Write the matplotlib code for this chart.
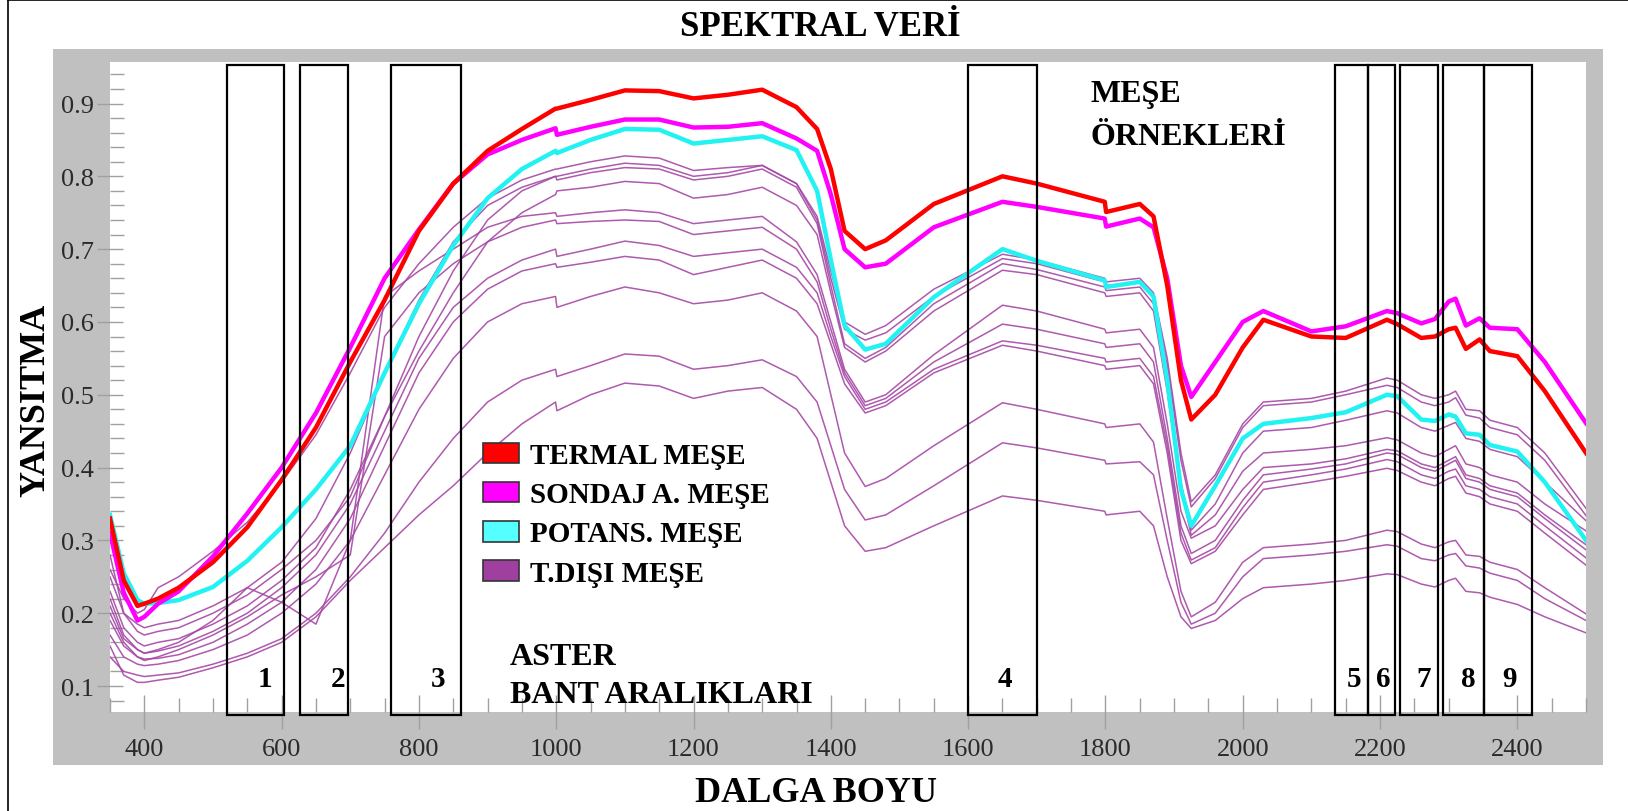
import matplotlib
matplotlib.use("Agg")
import matplotlib.pyplot as plt
from matplotlib.patches import Rectangle, Patch
from matplotlib.lines import Line2D
from matplotlib.ticker import MultipleLocator
import matplotlib.transforms as mtransforms

plt.rcParams['font.family'] = ['Liberation Serif', 'DejaVu Serif']

# wavelength grid (nm)
wl = [350, 370, 390, 400, 420, 450, 500, 550, 600, 650,
      700, 750, 800, 850, 900, 950, 999, 1001, 1050, 1100,
      1150, 1200, 1250, 1300, 1350, 1380, 1400, 1420, 1450, 1480,
      1550, 1650, 1700, 1799, 1801, 1850, 1870, 1890, 1910, 1925,
      1960, 2000, 2030, 2100, 2150, 2210, 2225, 2260, 2280, 2300,
      2310, 2325, 2345, 2360, 2400, 2440, 2500]

termal = [0.33, 0.245, 0.21, 0.213, 0.22, 0.235, 0.27, 0.318, 0.383, 0.455,
          0.545, 0.63, 0.725, 0.79, 0.835, 0.865, 0.893, 0.893, 0.905, 0.918,
          0.917, 0.907, 0.912, 0.919, 0.895, 0.865, 0.81, 0.725, 0.70, 0.712,
          0.762, 0.80, 0.79, 0.765, 0.751, 0.762, 0.745, 0.65, 0.52, 0.466,
          0.50, 0.565, 0.603, 0.58, 0.578, 0.603, 0.597, 0.578, 0.58, 0.59,
          0.592, 0.563, 0.576, 0.56, 0.553, 0.505, 0.42]

sondaj = [0.31, 0.228, 0.19, 0.195, 0.213, 0.23, 0.278, 0.337, 0.40, 0.475,
          0.565, 0.66, 0.727, 0.79, 0.83, 0.85, 0.866, 0.857, 0.868, 0.878,
          0.878, 0.867, 0.868, 0.873, 0.852, 0.835, 0.775, 0.70, 0.675, 0.68,
          0.73, 0.765, 0.758, 0.742, 0.731, 0.742, 0.73, 0.66, 0.54, 0.497,
          0.545, 0.60, 0.615, 0.587, 0.594, 0.615, 0.612, 0.598, 0.604, 0.628,
          0.632, 0.595, 0.605, 0.592, 0.59, 0.545, 0.461]

potans = [0.335, 0.255, 0.218, 0.213, 0.214, 0.218, 0.236, 0.272, 0.318, 0.37,
          0.43, 0.53, 0.625, 0.705, 0.77, 0.81, 0.835, 0.832, 0.85, 0.865,
          0.864, 0.845, 0.85, 0.855, 0.836, 0.78, 0.685, 0.595, 0.562, 0.57,
          0.634, 0.70, 0.684, 0.657, 0.648, 0.655, 0.635, 0.52, 0.37, 0.32,
          0.375, 0.44, 0.46, 0.468, 0.476, 0.50, 0.498, 0.466, 0.464, 0.473,
          0.47, 0.447, 0.445, 0.431, 0.422, 0.38, 0.30]

tdisi_1 = [0.26, 0.22, 0.20, 0.205, 0.235, 0.25, 0.285, 0.325, 0.38, 0.445,
           0.53, 0.62, 0.68, 0.73, 0.77, 0.795, 0.81, 0.81, 0.82, 0.828,
           0.825, 0.808, 0.812, 0.815, 0.79, 0.745, 0.67, 0.60, 0.583, 0.595,
           0.645, 0.693, 0.685, 0.66, 0.655, 0.66, 0.64, 0.55, 0.42, 0.353,
           0.39, 0.46, 0.49, 0.495, 0.505, 0.523, 0.52, 0.50, 0.495, 0.50,
           0.505, 0.48, 0.478, 0.465, 0.455, 0.42, 0.344]
tdisi_2 = [0.28, 0.20, 0.185, 0.18, 0.185, 0.19, 0.21, 0.235, 0.27, 0.33,
           0.42, 0.53, 0.63, 0.71, 0.76, 0.785, 0.80, 0.80, 0.81, 0.818,
           0.815, 0.80, 0.805, 0.815, 0.79, 0.74, 0.66, 0.59, 0.575, 0.585,
           0.635, 0.687, 0.68, 0.655, 0.65, 0.655, 0.635, 0.54, 0.41, 0.346,
           0.385, 0.455, 0.485, 0.49, 0.50, 0.513, 0.51, 0.49, 0.485, 0.49,
           0.496, 0.472, 0.468, 0.455, 0.445, 0.41, 0.334]
tdisi_3 = [0.25, 0.20, 0.175, 0.17, 0.175, 0.18, 0.20, 0.225, 0.26, 0.30,
           0.36, 0.47, 0.58, 0.67, 0.74, 0.78, 0.80, 0.795, 0.805, 0.812,
           0.81, 0.795, 0.80, 0.81, 0.785, 0.735, 0.65, 0.57, 0.55, 0.565,
           0.625, 0.68, 0.672, 0.648, 0.643, 0.648, 0.625, 0.52, 0.38, 0.314,
           0.35, 0.42, 0.45, 0.455, 0.465, 0.478, 0.475, 0.455, 0.45, 0.458,
           0.462, 0.44, 0.436, 0.425, 0.415, 0.38, 0.327]
tdisi_4 = [0.23, 0.18, 0.16, 0.155, 0.16, 0.165, 0.185, 0.21, 0.245, 0.29,
           0.37, 0.47, 0.56, 0.64, 0.71, 0.75, 0.775, 0.78, 0.785, 0.793,
           0.79, 0.77, 0.775, 0.785, 0.76, 0.72, 0.64, 0.565, 0.545, 0.56,
           0.615, 0.671, 0.665, 0.64, 0.635, 0.64, 0.615, 0.505, 0.37, 0.307,
           0.335, 0.395, 0.42, 0.425, 0.43, 0.441, 0.438, 0.42, 0.415, 0.425,
           0.43, 0.405, 0.40, 0.39, 0.38, 0.35, 0.313]
tdisi_5 = [0.22, 0.17, 0.15, 0.145, 0.15, 0.16, 0.19, 0.235, 0.215, 0.185,
           0.30, 0.635, 0.67, 0.70, 0.73, 0.745, 0.75, 0.745, 0.75, 0.754,
           0.75, 0.735, 0.74, 0.745, 0.71, 0.665, 0.60, 0.535, 0.49, 0.50,
           0.555, 0.623, 0.615, 0.59, 0.585, 0.59, 0.565, 0.46, 0.34, 0.303,
           0.32, 0.37, 0.40, 0.405, 0.412, 0.425, 0.423, 0.405, 0.40, 0.41,
           0.415, 0.39, 0.385, 0.375, 0.365, 0.335, 0.294]
tdisi_6 = [0.20, 0.16, 0.14, 0.135, 0.14, 0.15, 0.17, 0.195, 0.225, 0.25,
           0.28, 0.58, 0.64, 0.68, 0.71, 0.73, 0.74, 0.735, 0.738, 0.74,
           0.738, 0.72, 0.725, 0.73, 0.70, 0.655, 0.59, 0.53, 0.485, 0.495,
           0.545, 0.597, 0.59, 0.57, 0.565, 0.57, 0.545, 0.44, 0.32, 0.282,
           0.30, 0.355, 0.39, 0.398, 0.405, 0.42, 0.418, 0.40, 0.395, 0.405,
           0.41, 0.385, 0.38, 0.37, 0.36, 0.33, 0.287]
tdisi_7 = [0.21, 0.165, 0.15, 0.145, 0.148, 0.155, 0.175, 0.20, 0.235, 0.28,
           0.35, 0.45, 0.55, 0.62, 0.66, 0.685, 0.70, 0.69, 0.70, 0.711,
           0.705, 0.69, 0.695, 0.70, 0.675, 0.64, 0.58, 0.525, 0.48, 0.49,
           0.535, 0.574, 0.568, 0.55, 0.545, 0.55, 0.525, 0.43, 0.31, 0.273,
           0.29, 0.345, 0.38, 0.39, 0.398, 0.411, 0.408, 0.39, 0.385, 0.395,
           0.398, 0.375, 0.37, 0.36, 0.35, 0.32, 0.276]
tdisi_8 = [0.19, 0.155, 0.14, 0.137, 0.138, 0.143, 0.16, 0.185, 0.215, 0.26,
           0.33, 0.43, 0.53, 0.60, 0.645, 0.67, 0.68, 0.675, 0.682, 0.69,
           0.685, 0.665, 0.675, 0.685, 0.66, 0.625, 0.57, 0.515, 0.475, 0.485,
           0.53, 0.568, 0.56, 0.54, 0.535, 0.54, 0.515, 0.42, 0.30, 0.268,
           0.285, 0.335, 0.37, 0.38, 0.388, 0.399, 0.396, 0.38, 0.375, 0.385,
           0.388, 0.365, 0.36, 0.35, 0.34, 0.31, 0.266]
tdisi_9 = [0.17, 0.14, 0.13, 0.128, 0.13, 0.135, 0.15, 0.17, 0.20, 0.24,
           0.30, 0.39, 0.48, 0.55, 0.60, 0.625, 0.635, 0.62, 0.635, 0.648,
           0.64, 0.625, 0.63, 0.64, 0.615, 0.58, 0.50, 0.42, 0.374, 0.385,
           0.43, 0.489, 0.48, 0.46, 0.455, 0.46, 0.435, 0.33, 0.23, 0.195,
           0.215, 0.27, 0.29, 0.295, 0.30, 0.314, 0.312, 0.295, 0.29, 0.298,
           0.30, 0.28, 0.278, 0.27, 0.26, 0.235, 0.199]
tdisi_10 = [0.14, 0.12, 0.115, 0.113, 0.115, 0.118, 0.13, 0.145, 0.165, 0.20,
            0.25, 0.31, 0.38, 0.44, 0.49, 0.52, 0.535, 0.525, 0.54, 0.556,
            0.553, 0.535, 0.54, 0.548, 0.525, 0.49, 0.43, 0.37, 0.328, 0.335,
            0.375, 0.434, 0.427, 0.41, 0.405, 0.408, 0.39, 0.30, 0.215, 0.185,
            0.20, 0.25, 0.275, 0.28, 0.285, 0.294, 0.292, 0.275, 0.272, 0.28,
            0.282, 0.265, 0.262, 0.255, 0.245, 0.22, 0.19]
tdisi_11 = [0.155, 0.115, 0.105, 0.105, 0.108, 0.112, 0.125, 0.14, 0.16, 0.195,
            0.245, 0.29, 0.335, 0.375, 0.42, 0.46, 0.49, 0.478, 0.50, 0.516,
            0.512, 0.495, 0.505, 0.51, 0.48, 0.44, 0.38, 0.32, 0.285, 0.29,
            0.32, 0.361, 0.355, 0.34, 0.335, 0.34, 0.32, 0.25, 0.195, 0.179,
            0.19, 0.22, 0.235, 0.24, 0.245, 0.254, 0.253, 0.24, 0.236, 0.245,
            0.248, 0.23, 0.228, 0.222, 0.212, 0.195, 0.173]
tdisi = [tdisi_1, tdisi_2, tdisi_3, tdisi_4, tdisi_5, tdisi_6,
         tdisi_7, tdisi_8, tdisi_9, tdisi_10, tdisi_11]

# ASTER band ranges (nm)
band_names = ['1', '2', '3', '4', '5', '6', '7', '8', '9']
band_lo = [520, 627, 760, 1600, 2135, 2183, 2229, 2291, 2352]
band_hi = [603, 697, 862, 1700, 2183, 2222, 2284, 2352, 2421]
band_label_x = [575, 682, 828, 1653, 2162, 2204, 2264, 2328, 2388]

legend_labels = ['TERMAL MEŞE', 'SONDAJ A. MEŞE', 'POTANS. MEŞE', 'T.DIŞI MEŞE']

c_red = '#ff0000'
c_mag = '#ff00ff'
c_cyan = '#22f2f2'
c_purple = '#a548a5'

fig = plt.figure(figsize=(16.28, 8.12), dpi=100)
fig.patch.set_facecolor('white')

W, H = 1628.0, 812.0
# gray panel behind the plot
bg = fig.add_axes([53 / W, 1 - 766 / H, 1550 / W, 716 / H])
bg.set_facecolor('#c0c0c0')
bg.set_xticks([])
bg.set_yticks([])
for s in bg.spines.values():
    s.set_visible(False)
bg.set_zorder(0)

# frame lines of the original picture
fig.lines.append(Line2D([8 / W, 8 / W], [0, 1 - 1 / H], transform=fig.transFigure, color='black', lw=1.2))
fig.lines.append(Line2D([8 / W, 1], [1 - 1 / H, 1 - 1 / H], transform=fig.transFigure, color='black', lw=1.2))

ax = fig.add_axes([110 / W, 1 - 713 / H, 1476 / W, 650 / H])
ax.set_zorder(1)
ax.set_facecolor('white')
for s in ax.spines.values():
    s.set_visible(False)

for series in tdisi:
    ax.plot(wl, series, color=c_purple, lw=1.1, alpha=0.9, zorder=2)
ax.plot(wl, potans, color=c_cyan, lw=3.2, zorder=3)
ax.plot(wl, sondaj, color=c_mag, lw=3.2, zorder=4)
ax.plot(wl, termal, color=c_red, lw=3.2, zorder=5)

ax.set_xlim(350, 2500)
ax.set_ylim(0.0643, 0.957)

ax.xaxis.set_major_locator(MultipleLocator(200))
ax.xaxis.set_minor_locator(MultipleLocator(50))
ax.yaxis.set_major_locator(MultipleLocator(0.1))
ax.yaxis.set_minor_locator(MultipleLocator(0.02))
ax.set_yticks([0.1, 0.2, 0.3, 0.4, 0.5, 0.6, 0.7, 0.8, 0.9])
ax.set_yticklabels(['0.1', '0.2', '0.3', '0.4', '0.5', '0.6', '0.7', '0.8', '0.9'])
ax.set_xticks([400, 600, 800, 1000, 1200, 1400, 1600, 1800, 2000, 2200, 2400])
ax.tick_params(axis='both', which='major', direction='inout', color='#a0a0a0',
               width=1.0, labelsize=19, labelcolor='#2a2a2a')
ax.tick_params(axis='x', which='major', length=25, pad=6)
ax.tick_params(axis='y', which='major', length=19, pad=2)
ax.tick_params(axis='both', which='minor', direction='in', length=10,
               color='#a0a0a0', width=1.0)

# band boxes
trans = mtransforms.blended_transform_factory(ax.transData, ax.transAxes)
for lo, hi, name, lx in zip(band_lo, band_hi, band_names, band_label_x):
    ax.add_patch(Rectangle((lo, -0.005), hi - lo, 1.0, transform=trans,
                           fill=False, edgecolor='black', lw=1.6,
                           clip_on=False, zorder=6))
    ax.text(lx, 0.052, name, transform=trans, ha='center', va='center',
            fontsize=21, fontweight='bold', zorder=7)

bold = dict(fontweight='bold', color='black')
ax.text(0.271, 0.086, 'ASTER', transform=ax.transAxes, ha='left', va='center', fontsize=23, **bold)
ax.text(0.271, 0.027, 'BANT ARALIKLARI', transform=ax.transAxes, ha='left', va='center', fontsize=23, **bold)
ax.text(0.664, 0.951, 'MEŞE', transform=ax.transAxes, ha='left', va='center', fontsize=23, **bold)
ax.text(0.664, 0.886, 'ÖRNEKLERİ', transform=ax.transAxes, ha='left', va='center', fontsize=23, **bold)

handles = [Patch(facecolor=c, edgecolor='#333333', lw=1.2)
           for c in [c_red, c_mag, '#55ffff', '#9f3f9f']]
leg = ax.legend(handles, legend_labels, loc='upper left',
                bbox_to_anchor=((483 - 110) / 1476, (713 - 443) / 650),
                frameon=False, borderpad=0, borderaxespad=0,
                handlelength=1.25, handleheight=0.7, handletextpad=0.35,
                labelspacing=0.42,
                prop={'family': 'Liberation Serif', 'weight': 'bold', 'size': 21})
leg.set_zorder(8)

fig.text(820 / W, 1 - 28 / H, 'SPEKTRAL VERİ', ha='center', va='center', fontsize=25, **bold)
fig.text(816 / W, 1 - 794 / H, 'DALGA BOYU', ha='center', va='center', fontsize=26, **bold)
fig.text(36 / W, 1 - 400 / H, 'YANSITMA', ha='center', va='center', rotation=90, fontsize=26, **bold)

fig.savefig('out.png', dpi=100)
